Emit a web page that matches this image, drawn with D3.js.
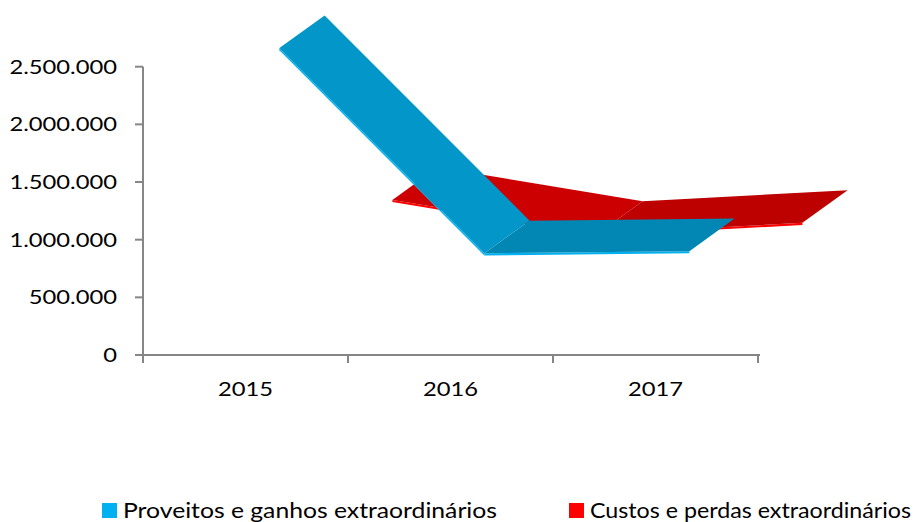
<!DOCTYPE html>
<html>
<head>
<meta charset="utf-8">
<script src="https://cdn.jsdelivr.net/npm/d3@7"></script>
<style>
  html, body { margin: 0; padding: 0; background: #fff; }
  svg { display: block; }
  text { font-family: Lato, "Open Sans", sans-serif; fill: #000; }
</style>
</head>
<body>
<svg id="chart" width="916" height="522"></svg>
<script>
// Extraordinary income and costs, 2015-2017 (3D ribbon line chart)
const years = ["2015", "2016", "2017"];
const seriesNames = ["Proveitos e ganhos extraordinários", "Custos e perdas extraordinários"];
const proveitos = [2450000, 671000, 689000];
const custos = [428000, 134000, 229000];
const yTicks = [0, 500000, 1000000, 1500000, 2000000, 2500000];

const svg = d3.select("#chart");

const plot = { left: 143, right: 758, top: 66.7, bottom: 355 };
const x = d3.scaleBand().domain(years).range([plot.left, plot.right]);
const y = d3.scaleLinear().domain([0, 2500000]).range([plot.bottom, plot.top]);

// depth axis: one slot per series, oblique projection up and to the right
const depth = d3.scaleBand().domain(seriesNames).range([0, 226]).paddingInner(0.6).paddingOuter(0.3);
const slope = 0.72;
const proj = (cat, v, z) => [x(cat) + x.bandwidth() / 2 + z, y(v) - z * slope];

const fmt = v => d3.format(",")(v).replace(/,/g, ".");
const textScale = 1.25;

const series = [
  { name: seriesNames[0], values: proveitos, edge: "#00B0F0", down: "#0396C8", up: "#0287B5" },
  { name: seriesNames[1], values: custos,    edge: "#FF0000", down: "#CC0000", up: "#BD0000" }
];

// back series first so the front ribbon covers it
const ribbons = svg.append("g");
series.slice().reverse().forEach(s => {
  const z0 = depth(s.name), z1 = z0 + depth.bandwidth();
  const g = ribbons.append("g");
  for (let i = 0; i < years.length - 1; i++) {
    const a = years[i], b = years[i + 1];
    const va = s.values[i], vb = s.values[i + 1];
    const f0 = proj(a, va, z0), f1 = proj(b, vb, z0);
    const b0 = proj(a, va, z1), b1 = proj(b, vb, z1);
    // front face (ribbon thickness)
    g.append("polygon")
      .attr("points", [f0, f1, [f1[0], f1[1] + 2.2], [f0[0], f0[1] + 2.2]].map(p => p.join(",")).join(" "))
      .attr("fill", s.edge);
    // top face
    g.append("polygon")
      .attr("points", [f0, f1, b1, b0].map(p => p.join(",")).join(" "))
      .attr("fill", vb < va ? s.down : s.up);
  }
});

// value axis
const axisColor = "#868686";
const yAxis = svg.append("g");
yAxis.append("line")
  .attr("x1", plot.left).attr("x2", plot.left)
  .attr("y1", y(2500000)).attr("y2", plot.bottom + 8)
  .attr("stroke", axisColor).attr("stroke-width", 2);
yTicks.forEach(t => {
  yAxis.append("line")
    .attr("x1", plot.left - 8).attr("x2", plot.left)
    .attr("y1", y(t)).attr("y2", y(t))
    .attr("stroke", axisColor).attr("stroke-width", 2);
  yAxis.append("g")
    .attr("transform", `translate(${plot.left - 26},${y(t) + 7}) scale(${textScale},1)`)
    .append("text")
    .attr("text-anchor", "end")
    .attr("font-size", 19)
    .text(fmt(t));
});

// category axis
const xAxis = svg.append("g");
xAxis.append("line")
  .attr("x1", plot.left).attr("x2", plot.right + 2)
  .attr("y1", plot.bottom).attr("y2", plot.bottom)
  .attr("stroke", axisColor).attr("stroke-width", 2);
const tickXs = years.map(c => x(c)).concat([plot.right]);
tickXs.forEach(tx => {
  xAxis.append("line")
    .attr("x1", tx).attr("x2", tx)
    .attr("y1", plot.bottom).attr("y2", plot.bottom + 8)
    .attr("stroke", axisColor).attr("stroke-width", 2);
});
years.forEach(c => {
  xAxis.append("g")
    .attr("transform", `translate(${x(c) + x.bandwidth() / 2},${plot.bottom + 41}) scale(${textScale},1)`)
    .append("text")
    .attr("text-anchor", "middle")
    .attr("font-size", 19)
    .text(c);
});

// legend
const legendItems = [
  { x: 102, width: 374 },
  { x: 569, width: 321 }
];
const legend = svg.append("g");
series.forEach((s, i) => {
  const it = legendItems[i];
  legend.append("rect")
    .attr("x", it.x).attr("y", 503)
    .attr("width", 15).attr("height", 15)
    .attr("fill", s.edge);
  legend.append("text")
    .attr("x", it.x + 21).attr("y", 518)
    .attr("font-size", 21)
    .attr("textLength", it.width)
    .attr("lengthAdjust", "spacingAndGlyphs")
    .text(s.name);
});
</script>
</body>
</html>
